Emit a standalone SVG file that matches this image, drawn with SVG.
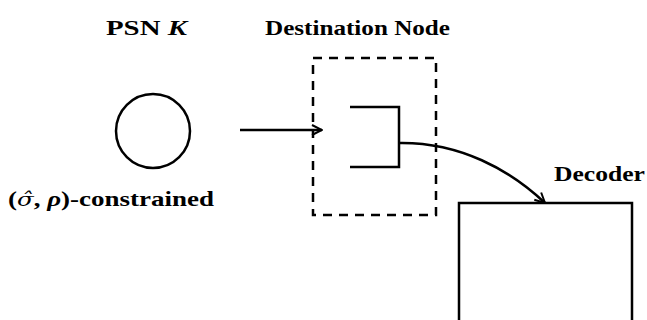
<svg xmlns="http://www.w3.org/2000/svg" width="647" height="320" viewBox="0 0 647 320">
<defs>
<style>
.lbl{font-family:"Liberation Serif","DejaVu Serif",serif;font-weight:bold;font-size:21px;fill:#000}
.ln{fill:none;stroke:#000;stroke-width:2.5}
</style>
<marker id="ah" viewBox="0 0 12 12" refX="11" refY="6" markerWidth="12" markerHeight="12" markerUnits="userSpaceOnUse" orient="auto">
<path d="M1,1 L11,6 L1,11" fill="none" stroke="#000" stroke-width="2"/>
</marker>
</defs>
<rect width="647" height="320" fill="#fff"/>
<g id="psn">
<circle class="ln" cx="153" cy="131" r="37"/>
<text class="lbl" x="106" y="35" textLength="81" lengthAdjust="spacingAndGlyphs">PSN <tspan font-style="italic">K</tspan></text>
<text class="lbl" x="8" y="206" textLength="206" lengthAdjust="spacingAndGlyphs">(<tspan font-style="italic" font-weight="normal" font-family="DejaVu Serif, serif" font-size="19">σ̂</tspan>, <tspan font-style="italic">ρ</tspan>)-constrained</text>
</g>
<g id="destination">
<rect x="313" y="58" width="123" height="157" fill="none" stroke="#000" stroke-width="2.5" stroke-dasharray="9,7"/>
<path class="ln" d="M350,107 H399 V167 H350"/>
<text class="lbl" x="265" y="35" textLength="185" lengthAdjust="spacingAndGlyphs">Destination Node</text>
</g>
<g id="decoder">
<path class="ln" d="M459,322 V203 H632 V322"/>
<text class="lbl" x="554" y="181" textLength="91" lengthAdjust="spacingAndGlyphs">Decoder</text>
</g>
<g id="connectors">
<path class="ln" d="M240,130 H322" marker-end="url(#ah)"/>
<path class="ln" d="M399,143 C460,142 510,170 545,203" marker-end="url(#ah)"/>
</g>
</svg>
